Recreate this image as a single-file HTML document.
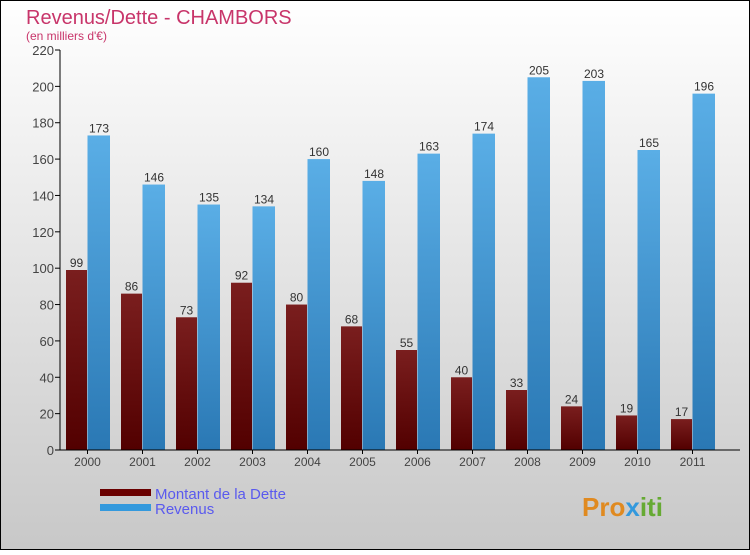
<!DOCTYPE html>
<html><head><meta charset="utf-8"><style>
body{margin:0}
#c{width:750px;height:550px;position:relative;font-family:"Liberation Sans",sans-serif}
</style></head><body>
<div id="c">
<svg id="s" width="750" height="550" xmlns="http://www.w3.org/2000/svg">
<defs>
<linearGradient id="bg" x1="0" y1="0" x2="0" y2="1"><stop offset="0" stop-color="#ffffff"/><stop offset="1" stop-color="#c8c8c8"/></linearGradient>
<linearGradient id="gd" x1="0" y1="0" x2="0" y2="1"><stop offset="0" stop-color="#7a1e1e"/><stop offset="1" stop-color="#520000"/></linearGradient>
<linearGradient id="gr" x1="0" y1="0" x2="0" y2="1"><stop offset="0" stop-color="#5aaee6"/><stop offset="1" stop-color="#2a78b4"/></linearGradient>
</defs>
<rect x="0.5" y="0.5" width="749" height="549" fill="url(#bg)" stroke="#000"/>
<text x="26" y="24" font-size="20" fill="#c8356a">Revenus/Dette - CHAMBORS</text>
<text x="26" y="40" font-size="12" fill="#c8356a">(en milliers d'€)</text>
<g id="plot"></g>
<rect x="100" y="489" width="51" height="7" fill="#6a0000"/>
<text x="155" y="499" font-size="15" fill="#5a5aee">Montant de la Dette</text>
<rect x="100" y="504" width="51" height="7" fill="#3399dd"/>
<text x="155" y="514" font-size="15" fill="#5a5aee">Revenus</text>
<text x="582" y="516" font-size="26" font-weight="bold" fill="#e08a20">Pro<tspan fill="#3399dd">x</tspan><tspan fill="#66aa33">iti</tspan></text>
</svg></div>
<script>
const years=["2000","2001","2002","2003","2004","2005","2006","2007","2008","2009","2010","2011"];
const dette=[99,86,73,92,80,68,55,40,33,24,19,17];
const revenus=[173,146,135,134,160,148,163,174,205,203,165,196];
const yTicks=[0,20,40,60,80,100,120,140,160,180,200,220];
const NS="http://www.w3.org/2000/svg";
const g=document.getElementById('plot');
const x0=60,pitch=55,y0=450,yMax=220,h=400;
const y=v=>y0-v/yMax*h;
function el(t,a){const e=document.createElementNS(NS,t);for(const k in a)e.setAttribute(k,a[k]);g.appendChild(e);return e;}
yTicks.forEach(t=>{
 const l=el('line',{x1:x0-5,x2:x0,y1:y(t),y2:y(t),stroke:'#000'});
 
 
 const tx=el('text',{x:x0-6,y:y(t)+5,'text-anchor':'end','font-size':13,fill:'#444'});
 tx.textContent=t;
 
 
});
years.forEach((yr,i)=>{
 const gx=x0+i*pitch;
 const b1=el('rect',{x:gx+6,y:y(dette[i]),width:21,height:y0-y(dette[i]),fill:'url(#gd)'});
 
 
 const b2=el('rect',{x:gx+27.5,y:y(revenus[i]),width:22.5,height:y0-y(revenus[i]),fill:'url(#gr)'});
 
 
 const t1=el('text',{x:gx+16.5,y:y(dette[i])-3,'text-anchor':'middle','font-size':12,fill:'#333'});
 t1.textContent=dette[i];
 
 
 const t2=el('text',{x:gx+39,y:y(revenus[i])-3,'text-anchor':'middle','font-size':12,fill:'#333'});
 t2.textContent=revenus[i];
 
 
 const tk=el('line',{x1:gx+27.5,x2:gx+27.5,y1:y0,y2:y0+4,stroke:'#000'});
 
 
 const xl=el('text',{x:gx+27.5,y:y0+16,'text-anchor':'middle','font-size':12,fill:'#444'});
 xl.textContent=yr;
 
 
});
const ax=el('line',{x1:x0,x2:x0,y1:y(220),y2:y0,stroke:'#000'});


const bx=el('line',{x1:x0,x2:740,y1:y0,y2:y0,stroke:'#000'});


</script>
</body></html>
